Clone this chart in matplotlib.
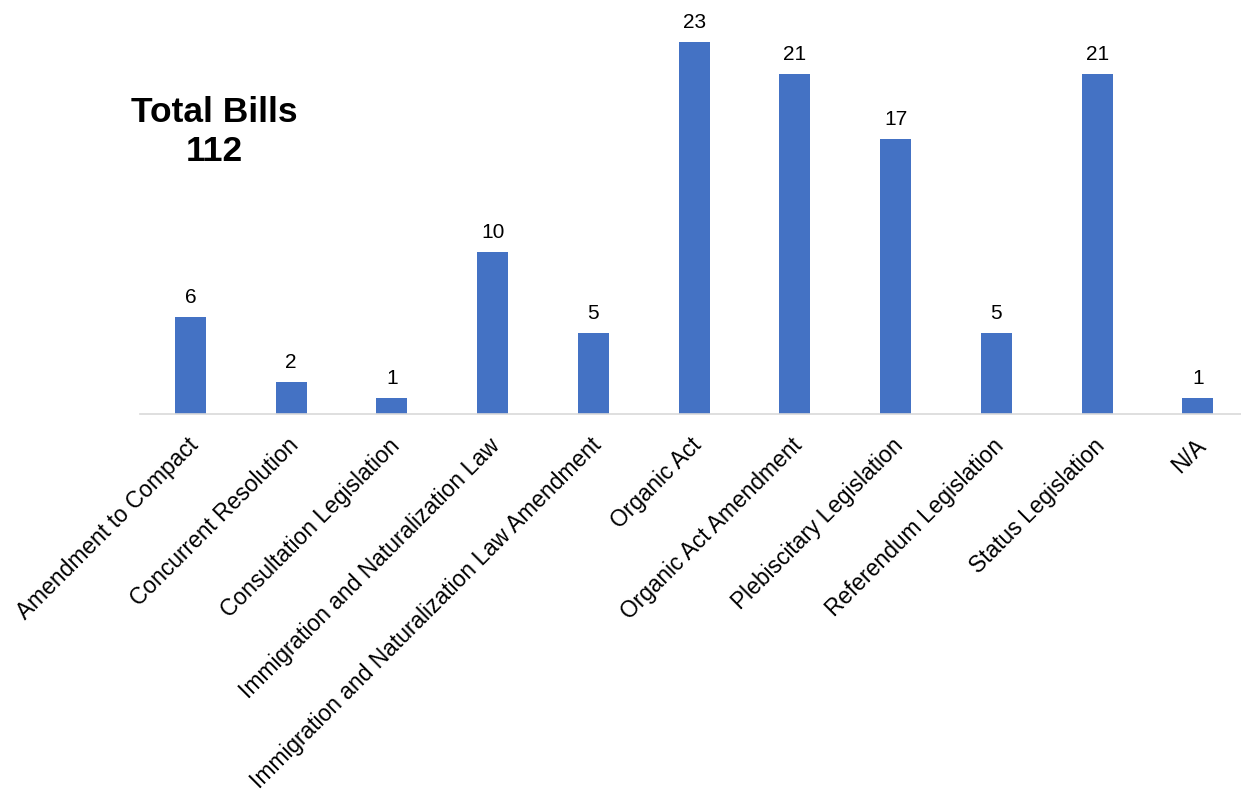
import matplotlib
matplotlib.use("Agg")
import matplotlib.pyplot as plt
from matplotlib.transforms import ScaledTranslation

categories = ["Amendment to Compact", "Concurrent Resolution", "Consultation Legislation",
              "Immigration and Naturalization Law", "Immigration and Naturalization Law Amendment",
              "Organic Act", "Organic Act Amendment", "Plebiscitary Legislation",
              "Referendum Legislation", "Status Legislation", "N/A"]
counts = [6, 2, 1, 10, 5, 23, 21, 17, 5, 21, 1]
total_label = "Total Bills\n112"

plt.rcParams['font.family'] = ['Liberation Sans', 'DejaVu Sans']

W, H = 1241, 795
fig = plt.figure(figsize=(W / 100, H / 100), dpi=100)
ax = fig.add_axes([140 / W, (H - 414) / H, (W - 140) / W, (414 - 42) / H])

x = list(range(len(categories)))
bars = ax.bar(x, counts, width=0.31, color="#4472C4")
ax.set_xlim(-0.5, -0.5 + 1101 / 100.75)
ax.set_ylim(0, 23)

for b, v in zip(bars, counts):
    ax.annotate(str(v), (b.get_x() + b.get_width() / 2, v), xytext=(0, 10),
                textcoords="offset points", ha="center", va="baseline",
                fontsize=15, clip_on=False)

# category labels, rotated 45 deg and anchored at top-right under each bar
offset = ScaledTranslation(-0.04, -0.20, fig.dpi_scale_trans)
for i, lab in zip(x, categories):
    ax.text(i, 0, lab, transform=ax.get_xaxis_transform() + offset,
            rotation=45, ha="right", va="top", rotation_mode="anchor",
            fontsize=16.4, clip_on=False)

ax.set_xticks([])
ax.set_yticks([])
for s in ["top", "right", "left"]:
    ax.spines[s].set_visible(False)
ax.spines["bottom"].set_color("#D9D9D9")
ax.spines["bottom"].set_linewidth(1.2)

fig.text(214 / W, 1 - 132 / H, total_label, ha="center", va="center",
         fontsize=25.5, fontweight="bold", linespacing=1.2)

fig.savefig("out.png", dpi=100)
